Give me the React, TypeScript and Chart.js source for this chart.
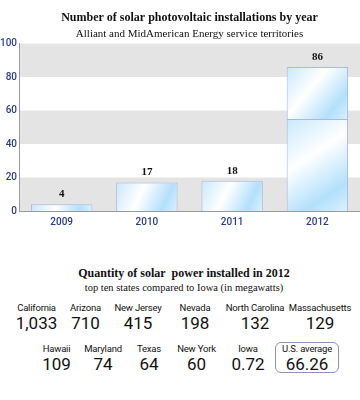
import React, { useEffect, useRef } from 'react';
import { Chart, registerables } from 'chart.js';
Chart.register(...registerables);

const years = ['2009', '2010', '2011', '2012'];
const installations = [4, 17, 18, 86];
const lowerSegment = [4, 17, 18, 55];
const upperSegment = [0, 0, 0, 31];

const chartTitle = 'Number of solar photovoltaic installations by year';
const chartSubtitle = 'Alliant and MidAmerican Energy service territories';

const tableTitle = 'Quantity of solar\u00a0 power installed in 2012';
const tableSubtitle = 'top ten states compared to Iowa (in megawatts)';
const statesRow1 = ['California', 'Arizona', 'New Jersey', 'Nevada', 'North Carolina', 'Massachusetts'];
const valuesRow1 = ['1,033', '710', '415', '198', '132', '129'];
const statesRow2 = ['Hawaii', 'Maryland', 'Texas', 'New York', 'Iowa'];
const valuesRow2 = ['109', '74', '64', '60', '0.72'];
const averageLabel = 'U.S. average';
const averageValue = '66.26';

const NAVY = '#2b3b8c';
const SERIF = '"Liberation Serif", "DejaVu Serif", serif';
const COND = 'Roboto, "Noto Sans", sans-serif';

function barGradient(ctx: any, segStarts: number[], segValues: number[]) {
  const chart = ctx.chart;
  const i = ctx.dataIndex;
  const xs = chart.scales?.x;
  const ys = chart.scales?.y;
  if (!xs || !ys || i === undefined || !chart.chartArea) return '#cfeafc';
  const cx = xs.getPixelForValue(i);
  const half = (xs.width / years.length) * 0.72 / 2;
  const top = ys.getPixelForValue(segStarts[i] + segValues[i]);
  const bottom = ys.getPixelForValue(segStarts[i]);
  const g = chart.ctx.createLinearGradient(cx - half, top, cx + half, Math.max(bottom, top + 1));
  g.addColorStop(0, '#c8e8fc');
  g.addColorStop(0.4, '#ffffff');
  g.addColorStop(0.78, '#b3e0fb');
  g.addColorStop(1, '#dcf1fe');
  return g;
}

const zeros = years.map(() => 0);

const bandsPlugin = {
  id: 'bands',
  beforeDraw(chart: any) {
    const ys = chart.scales.y;
    const { left, right } = chart.chartArea;
    const c = chart.ctx;
    c.save();
    c.fillStyle = '#e4e4e4';
    const ticks = ys.ticks;
    for (let k = 0; k + 1 < ticks.length; k += 2) {
      const b = ys.getPixelForValue(ticks[k].value);
      const t = ys.getPixelForValue(ticks[k + 1].value);
      c.fillRect(left, t, right - left, b - t);
    }
    c.restore();
  },
};

const labelsPlugin = {
  id: 'valueLabels',
  afterDatasetsDraw(chart: any) {
    const xs = chart.scales.x;
    const ys = chart.scales.y;
    const c = chart.ctx;
    c.save();
    c.fillStyle = '#111';
    c.font = `bold 11px ${SERIF}`;
    c.textAlign = 'center';
    c.textBaseline = 'middle';
    installations.forEach((v, i) => {
      c.fillText(String(v), xs.getPixelForValue(i), ys.getPixelForValue(v) - 10);
    });
    c.restore();
  },
};

function BarChart() {
  const ref = useRef<HTMLCanvasElement>(null);
  useEffect(() => {
    if (!ref.current) return;
    const chart = new Chart(ref.current, {
      type: 'bar',
      data: {
        labels: years,
        datasets: [
          {
            data: lowerSegment,
            backgroundColor: (ctx: any) => barGradient(ctx, zeros, lowerSegment),
            borderColor: '#aab8e0',
            borderWidth: 1,
            categoryPercentage: 0.72,
            barPercentage: 1,
          },
          {
            data: upperSegment,
            backgroundColor: (ctx: any) => barGradient(ctx, lowerSegment, upperSegment),
            borderColor: '#aab8e0',
            borderWidth: 1,
            categoryPercentage: 0.72,
            barPercentage: 1,
          },
        ],
      },
      options: {
        animation: false,
        responsive: true,
        maintainAspectRatio: false,
        layout: { padding: { left: 0, right: 0, top: 0, bottom: 0 } },
        plugins: {
          legend: { display: false },
          tooltip: { enabled: false },
          title: {
            display: true,
            text: chartTitle,
            color: '#111',
            fullSize: false,
            font: { family: SERIF, size: 12, weight: 'bold' },
            padding: { top: 11, bottom: 2 },
          },
          subtitle: {
            display: true,
            text: chartSubtitle,
            color: '#111',
            fullSize: false,
            font: { family: SERIF, size: 11 },
            padding: { top: 0, bottom: 3 },
          },
        },
        scales: {
          x: {
            stacked: true,
            grid: { display: false, drawTicks: false, tickLength: 0 },
            border: { display: true, color: '#9a9a9a' },
            ticks: { color: NAVY, font: { family: COND, size: 10, weight: 500 }, padding: 5 },
          },
          y: {
            stacked: true,
            min: 0,
            max: 100,
            grid: { display: false, drawTicks: false, tickLength: 0 },
            border: { display: true, color: '#9a9a9a' },
            afterFit: (scale: any) => {
              scale.width = 19;
            },
            ticks: { stepSize: 20, color: NAVY, font: { family: COND, size: 10, weight: 500 }, padding: 2 },
          },
        },
      },
      plugins: [bandsPlugin, labelsPlugin],
    });
    return () => chart.destroy();
  }, []);
  return (
    <div style={{ position: 'absolute', left: 0, top: 0, width: 360, height: 233 }}>
      <canvas ref={ref} />
    </div>
  );
}

function StateCell({ name, value }: { name: string; value: string }) {
  return (
    <div style={{ display: 'flex', flexDirection: 'column', alignItems: 'center', whiteSpace: 'nowrap' }}>
      <div style={{ fontSize: 9.5, lineHeight: '12px', color: '#111', letterSpacing: -0.2 }}>{name}</div>
      <div style={{ fontSize: 17, lineHeight: '19px', color: '#111', fontWeight: 400 }}>{value}</div>
    </div>
  );
}

export default function App() {
  return (
    <div style={{ position: 'absolute', left: 0, top: 0, width: 360, height: 400, background: '#fff', overflow: 'hidden' }}>
      <BarChart />
      <div style={{ position: 'absolute', top: 266, left: 8, width: 352, textAlign: 'center', fontFamily: SERIF, color: '#111' }}>
        <div style={{ fontSize: 12, fontWeight: 'bold', lineHeight: '15px' }}>{tableTitle}</div>
        <div style={{ fontSize: 10.5, lineHeight: '13px' }}>{tableSubtitle}</div>
      </div>
      <div
        style={{
          position: 'absolute',
          top: 302,
          left: 12,
          display: 'grid',
          gridTemplateColumns: '49px 49px 56px 58px 62px 68px',
          fontFamily: COND,
        }}
      >
        {statesRow1.map((s, i) => (
          <StateCell key={s} name={s} value={valuesRow1[i]} />
        ))}
      </div>
      <div
        style={{
          position: 'absolute',
          top: 343,
          left: 33,
          display: 'grid',
          gridTemplateColumns: '47px 46px 46px 49px 54px 64px',
          alignItems: 'start',
          fontFamily: COND,
        }}
      >
        {statesRow2.map((s, i) => (
          <StateCell key={s} name={s} value={valuesRow2[i]} />
        ))}
        <div
          style={{
            border: '1px solid #8e92bb',
            borderRadius: 6,
            boxSizing: 'border-box',
            height: 31,
            marginTop: -1,
            paddingTop: 0,
          }}
        >
          <StateCell name={averageLabel} value={averageValue} />
        </div>
      </div>
    </div>
  );
}
